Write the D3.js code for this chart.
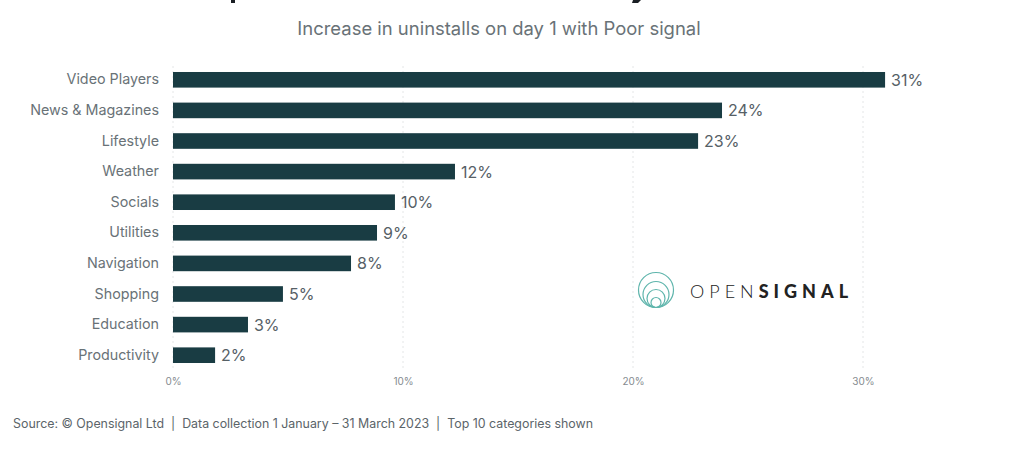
<!DOCTYPE html>
<html>
<head>
<meta charset="utf-8">
<script src="https://cdnjs.cloudflare.com/ajax/libs/d3/7.8.5/d3.min.js"></script>
<style>
html,body{margin:0;padding:0;background:#fff;overflow:hidden}
svg{display:block}
</style>
</head>
<body>
<div id="chart"></div>
<script>
// values
var categories=['Video Players','News & Magazines','Lifestyle','Weather','Socials','Utilities','Navigation','Shopping','Education','Productivity'];
var values=[30.96,23.87,22.83,12.26,9.65,8.87,7.74,4.78,3.26,1.83];
var valueLabels=['31%','24%','23%','12%','10%','9%','8%','5%','3%','2%'];
var xTicks=[0,10,20,30];
var ringRadii=[17.5,13,9,5];

var w=1024,h=454;
var F='Inter,"Open Sans",sans-serif';
var C={bar:'#193c43',label:'#697277',value:'#566066',tick:'#858b8f',grid:'#e4e6e7',teal:'#5fb5ac',source:'#5b6469'};

var svg=d3.select('#chart').append('svg').attr('width',w).attr('height',h).attr('viewBox','0 0 '+w+' '+h);

var x=d3.scaleLinear().domain([0,30]).range([173,863]);
var y=d3.scaleBand().domain(categories).range([64.5,370.5]).paddingInner(.49).paddingOuter(.245);

// gridlines
svg.append('g').selectAll('line').data(xTicks).join('line')
  .attr('x1',function(d){return x(d)}).attr('x2',function(d){return x(d)})
  .attr('y1',66).attr('y2',369)
  .attr('stroke',C.grid).attr('stroke-width',1).attr('stroke-dasharray','2 3');

// x axis
var xAxis=d3.axisBottom(x).tickValues(xTicks).tickSize(0).tickPadding(0).tickFormat(function(d){return d+'%'});
var gx=svg.append('g').attr('transform','translate(0,378)').call(xAxis);
gx.select('.domain').remove();
gx.selectAll('text').attr('font-family',F).attr('font-size',10).attr('fill',C.tick);

// y axis
var yAxis=d3.axisLeft(y).tickSize(0).tickPadding(14);
var gy=svg.append('g').attr('transform','translate(173,0)').call(yAxis);
gy.select('.domain').remove();
gy.selectAll('text').attr('font-family',F).attr('font-size',14.3).attr('fill',C.label);

// bars
svg.append('g').selectAll('rect').data(values).join('rect')
  .attr('x',x(0))
  .attr('y',function(d,i){return y(categories[i])})
  .attr('width',function(d){return x(d)-x(0)})
  .attr('height',y.bandwidth())
  .attr('fill',C.bar);

// value labels
svg.append('g').selectAll('text').data(values).join('text')
  .attr('x',function(d){return x(d)+6})
  .attr('y',function(d,i){return y(categories[i])+y.bandwidth()/2})
  .attr('dy','.37em')
  .attr('font-family',F).attr('font-size',16).attr('fill',C.value)
  .text(function(d,i){return valueLabels[i]});

// title is cropped by the top edge, only two descender stubs are left
svg.append('rect').attr('x',231).attr('y',0).attr('width',4).attr('height',3).attr('fill','#1a1f24');
svg.append('path').attr('d','M633 0H641L638 3H632Z').attr('fill','#1a1f24');

// subtitle
svg.append('text').attr('x',499).attr('y',35).attr('text-anchor','middle')
  .attr('font-family',F).attr('font-size',18.45).attr('fill',C.label)
  .text('Increase in uninstalls on day 1 with Poor signal');

// logo: nested rings sitting on the same bottom point
var logo=svg.append('g').attr('fill','none').attr('stroke',C.teal).attr('stroke-width',1.2);
ringRadii.forEach(function(r){
  logo.append('circle').attr('cx',656).attr('cy',307.5-r).attr('r',r);
});
var wm=svg.append('text').attr('x',690).attr('y',298).attr('font-family','Lato,sans-serif').attr('font-size',18).attr('letter-spacing',5).attr('fill','#222');
wm.append('tspan').attr('font-weight',300).text('OPEN');
wm.append('tspan').attr('font-weight',900).text('SIGNAL');

// source line
svg.append('text').attr('x',13).attr('y',428).attr('font-family',F).attr('font-size',12.4).attr('fill',C.source).attr('xml:space','preserve')
  .text('Source: \u00a9 Opensignal Ltd  |  Data collection 1 January \u2013 31 March 2023  |  Top 10 categories shown');
</script>
</body>
</html>
